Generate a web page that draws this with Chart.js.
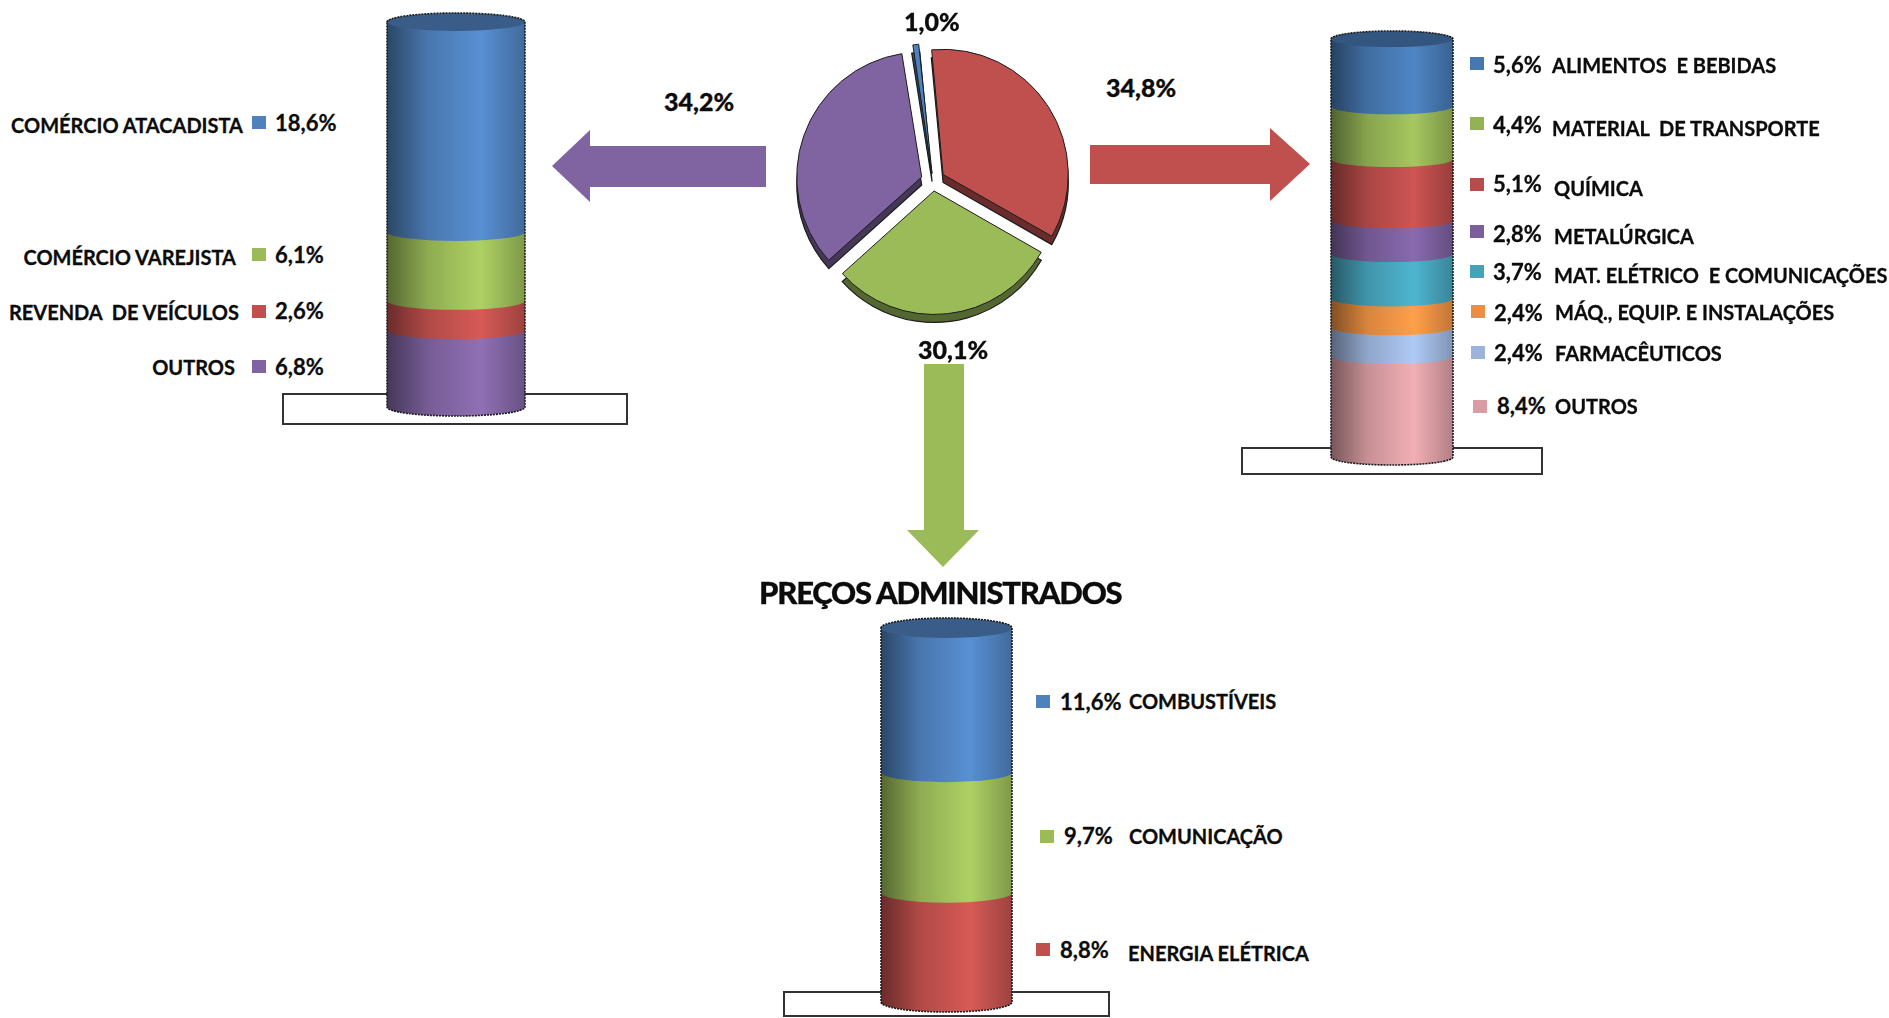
<!DOCTYPE html>
<html lang="pt">
<head>
<meta charset="utf-8">
<title>Preços administrados</title>
<script src="https://cdn.jsdelivr.net/npm/chart.js@4"></script>
<style>
  html, body { margin: 0; padding: 0; background: #fff; overflow: hidden; }
  body { position: relative; width: 1889px; height: 1018px; font-family: Lato, "Open Sans", sans-serif; font-weight: 700; color: #0c0c0c; }
  canvas { position: absolute; }
  .txt { position: absolute; white-space: pre; line-height: 1; -webkit-text-stroke: 0.3px #0c0c0c; }
  .big { font-weight: 900; }
  .swatch { position: absolute; width: 14px; height: 13px; }
  .base { position: absolute; box-sizing: border-box; background: #fff; border: 2px solid #333; }
  svg { position: absolute; left: 0; top: 0; }
</style>
</head>
<body>
<svg width="1889" height="1018">
  <polygon points="552,166 590,130 590,146 766,146 766,187 590,187 590,202" fill="#8064a2"/>
  <polygon points="1090,145 1270,145 1270,128 1310,164 1270,201 1270,184 1090,184" fill="#c0504d"/>
  <polygon points="924,364 964,364 964,530 979,530 943,567 907,530 924,530" fill="#9bbb59"/>
</svg>
<div class="base" style="left:282px;top:393px;width:346px;height:32px"></div>
<div class="base" style="left:1241px;top:447px;width:302px;height:28px"></div>
<div class="base" style="left:783px;top:991px;width:327px;height:26px"></div>
<canvas id="pie" width="320" height="320" style="left:773px;top:21px"></canvas>
<canvas id="left" width="178" height="440" style="left:367px;top:0"></canvas>
<canvas id="right" width="162" height="490" style="left:1311px;top:0"></canvas>
<canvas id="bottom" width="171" height="440" style="left:861px;top:578px"></canvas>
<script>
// participação no total
const pieCategories = ['Indústria', 'Preços administrados', 'Comércio', 'Outros'];
const pieValues = [34.8, 30.1, 34.2, 1.0];
const pieColors = ['#c0504d', '#9bbb59', '#8064a2', '#4f81bd'];
const pieOffsets = [48, 40, 48, 30];

const leftCategories = ['COMÉRCIO ATACADISTA', 'COMÉRCIO VAREJISTA', 'REVENDA  DE VEÍCULOS', 'OUTROS'];
const leftValues = [18.6, 6.1, 2.6, 6.8];
const leftColors = ['#4f81bd', '#9bbb59', '#c0504d', '#8064a2'];

const rightCategories = ['ALIMENTOS  E BEBIDAS', 'MATERIAL  DE TRANSPORTE', 'QUÍMICA', 'METALÚRGICA', 'MAT. ELÉTRICO  E COMUNICAÇÕES', 'MÁQ., EQUIP. E INSTALAÇÕES', 'FARMACÊUTICOS', 'OUTROS'];
const rightValues = [5.6, 4.4, 5.1, 2.8, 3.7, 2.4, 2.4, 8.4];
const rightColors = ['#4678b0', '#93b255', '#b84c4a', '#7a5f9c', '#46a2ba', '#ec8f42', '#9cb4dc', '#d89ca2'];

const bottomCategories = ['COMBUSTÍVEIS', 'COMUNICAÇÃO', 'ENERGIA ELÉTRICA'];
const bottomValues = [11.6, 9.7, 8.8];
const bottomColors = ['#4f81bd', '#9bbb59', '#c0504d'];

const fmt = v => v.toFixed(1).replace('.', ',') + '%';

function shade(hex, f) {
    const n = parseInt(hex.slice(1), 16);
    const c = [n >> 16, (n >> 8) & 255, n & 255].map(v => Math.min(255, Math.round(v * f)));
    return `rgb(${c[0]},${c[1]},${c[2]})`;
}

function addText(text, x, y, size, anchorRight, cls) {
    const el = document.createElement('div');
    el.className = 'txt' + (cls ? ' ' + cls : '');
    el.textContent = text;
    el.style.left = x + 'px';
    el.style.top = y + 'px';
    el.style.fontSize = size + 'px';
    el.style.transform = anchorRight ? 'translate(-100%,-50%)' : 'translateY(-50%)';
    document.body.appendChild(el);
    return el;
}

function addSwatch(x, y, color) {
    const el = document.createElement('div');
    el.className = 'swatch';
    el.style.left = x + 'px';
    el.style.top = y + 'px';
    el.style.background = color;
    document.body.appendChild(el);
}

function cylGradient(ctx, x0, x1, color) {
    const g = ctx.createLinearGradient(x0, 0, x1, 0);
    g.addColorStop(0, shade(color, 0.55));
    g.addColorStop(0.3, shade(color, 0.92));
    g.addColorStop(0.68, shade(color, 1.12));
    g.addColorStop(1, shade(color, 0.82));
    return g;
}

// tampa, curvas entre as fatias e contorno do cilindro
const cylinderPlugin = {
    id: 'cylinder',
    afterDatasetsDraw(chart, args, opts) {
        const ctx = chart.ctx;
        const n = chart.data.datasets.length;
        const first = chart.getDatasetMeta(0).data[0];
        const half = first.width / 2;
        const cx = first.x;
        const ry = opts.ry;
        ctx.save();
        for (let i = n - 1; i >= 0; i--) {
            const bar = chart.getDatasetMeta(i).data[0];
            const y = Math.max(bar.y, bar.base);
            ctx.fillStyle = cylGradient(ctx, cx - half, cx + half, opts.colors[i]);
            ctx.beginPath();
            ctx.ellipse(cx, y, half, ry, 0, 0, Math.PI * 2);
            ctx.fill();
        }
        const top = Math.min(first.y, first.base);
        const lastBar = chart.getDatasetMeta(n - 1).data[0];
        const bottom = Math.max(lastBar.y, lastBar.base);
        ctx.fillStyle = shade(opts.colors[0], 0.72);
        ctx.beginPath();
        ctx.ellipse(cx, top, half, ry, 0, 0, Math.PI * 2);
        ctx.fill();
        ctx.strokeStyle = '#1c1c1c';
        ctx.lineWidth = 1.6;
        ctx.setLineDash([2, 1]);
        ctx.beginPath();
        ctx.ellipse(cx, top, half, ry, 0, Math.PI, Math.PI * 2);
        ctx.lineTo(cx + half, bottom);
        ctx.ellipse(cx, bottom, half, ry, 0, 0, Math.PI);
        ctx.closePath();
        ctx.stroke();
        ctx.restore();
    }
};

function cylinder(id, values, colors, padTop, padBottom, ry) {
    const total = values.reduce((a, b) => a + b, 0);
    const datasets = values.map((v, i) => ({
        data: [v],
        backgroundColor(c) {
            const area = c.chart.chartArea;
            if (!area) return colors[i];
            return cylGradient(c.chart.ctx, area.left, area.right, colors[i]);
        }
    }));
    return new Chart(document.getElementById(id), {
        type: 'bar',
        data: { labels: [''], datasets },
        plugins: [cylinderPlugin],
        options: {
            responsive: false,
            animation: false,
            layout: { padding: { top: padTop, bottom: padBottom, left: 20, right: 20 } },
            datasets: { bar: { categoryPercentage: 1, barPercentage: 1 } },
            scales: {
                x: { display: false, stacked: true },
                y: { display: false, stacked: true, reverse: true, min: 0, max: total }
            },
            plugins: { legend: { display: false }, tooltip: { enabled: false }, cylinder: { colors, ry } }
        }
    });
}

const pieDepth = {
    id: 'pieDepth',
    beforeDatasetsDraw(chart) {
        const ctx = chart.ctx;
        const meta = chart.getDatasetMeta(0);
        ctx.save();
        meta.data.forEach((arc, i) => {
            // o ArcElement desloca offset/4 e aumenta o raio nas fatias estreitas
            const offset = arc.options.offset / 4;
            const mid = (arc.startAngle + arc.endAngle) / 2;
            const x = arc.x + Math.cos(mid) * offset;
            const y = arc.y + Math.sin(mid) * offset;
            const fix = 1 - Math.sin(Math.min(Math.PI, arc.circumference));
            const r = arc.outerRadius + offset * fix;
            ctx.fillStyle = shade(pieColors[i], 0.55);
            ctx.strokeStyle = '#1c1c1c';
            ctx.lineWidth = 1.2;
            ctx.beginPath();
            ctx.moveTo(x, y + 8);
            ctx.arc(x, y + 8, r, arc.startAngle, arc.endAngle);
            ctx.closePath();
            ctx.fill();
            ctx.stroke();
        });
        ctx.restore();
    }
};

new Chart(document.getElementById('pie'), {
    type: 'pie',
    data: {
        labels: pieCategories,
        datasets: [{
            data: pieValues,
            backgroundColor: pieColors,
            borderColor: '#1c1c1c',
            borderWidth: 1,
            offset: pieOffsets,
            radius: 123
        }]
    },
    plugins: [pieDepth],
    options: {
        responsive: false,
        animation: false,
        rotation: -5.4,
        plugins: { legend: { display: false }, tooltip: { enabled: false } }
    }
});

cylinder('left', leftValues, leftColors, 22, 33, 9);
cylinder('right', rightValues, rightColors, 39, 33, 8);
cylinder('bottom', bottomValues, bottomColors, 50, 16, 10);

// textos das legendas: [x do quadrado, y do quadrado, x do valor, y do valor, x do nome, y do nome]
const leftPos = [
    [252, 116, 275, 123, 243, 125], [252, 248, 275, 255, 236, 257],
    [252, 305, 275, 311, 239, 312], [252, 360, 275, 367, 235, 367]
];
const rightPos = [
    [1470, 57, 1493, 65, 1552, 65], [1470, 117, 1493, 125, 1552, 128],
    [1470, 178, 1493, 184, 1554, 188], [1470, 225, 1493, 234, 1554, 236],
    [1470, 265, 1493, 272, 1554, 275], [1471, 305, 1494, 313, 1555, 312],
    [1471, 346, 1494, 353, 1555, 353], [1473, 400, 1497, 406, 1555, 406]
];
const bottomPos = [
    [1036, 695, 1060, 702, 1129, 701], [1040, 830, 1064, 836, 1129, 836],
    [1036, 943, 1060, 950, 1128, 953]
];

function legend(categories, values, colors, pos, nameRight) {
    categories.forEach((name, i) => {
        const p = pos[i];
        addSwatch(p[0], p[1], colors[i]);
        addText(fmt(values[i]), p[2], p[3], 22);
        addText(name, p[4], p[5], 20, nameRight);
    });
}
legend(leftCategories, leftValues, leftColors, leftPos, true);
legend(rightCategories, rightValues, rightColors, rightPos, false);
legend(bottomCategories, bottomValues, bottomColors, bottomPos, false);

addText(fmt(pieValues[2]), 664, 101, 25, false, 'big');
addText(fmt(pieValues[0]), 1106, 87, 25, false, 'big');
addText(fmt(pieValues[3]), 904, 21, 25, false, 'big');
addText(fmt(pieValues[1]), 918, 349, 25, false, 'big');
addText('PREÇOS ADMINISTRADOS', 759, 592, 31, false, 'big').style.letterSpacing = '-1.2px';
</script>
</body>
</html>
